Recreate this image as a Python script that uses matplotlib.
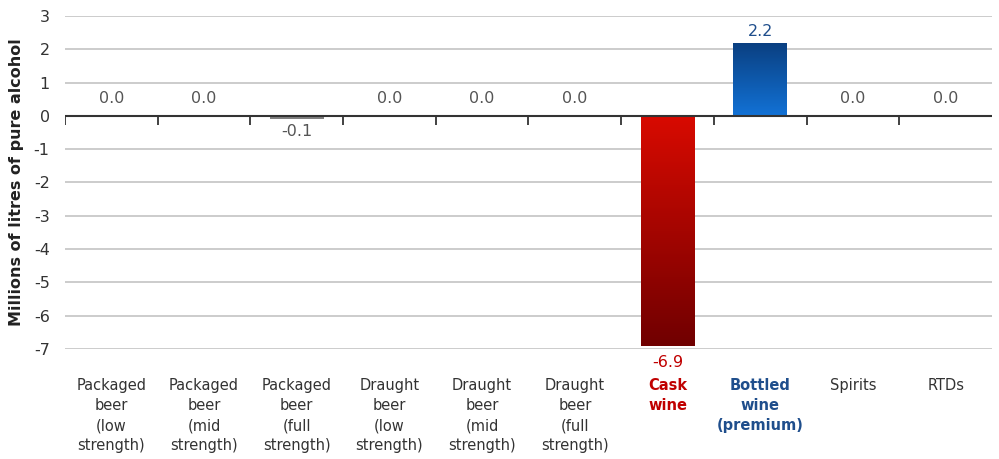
import numpy as np
import matplotlib.pyplot as plt
from matplotlib.colors import LinearSegmentedColormap

# Données
categories = ["Packaged\nbeer\n(low\nstrength)", "Packaged\nbeer\n(mid\nstrength)",
              "Packaged\nbeer\n(full\nstrength)", "Draught\nbeer\n(low\nstrength)",
              "Draught\nbeer\n(mid\nstrength)", "Draught\nbeer\n(full\nstrength)",
              "Cask\nwine", "Bottled\nwine\n(premium)", "Spirits", "RTDs"]
valeurs = [0.0, 0.0, -0.1, 0.0, 0.0, 0.0, -6.9, 2.2, 0.0, 0.0]
y_ticks = [3, 2, 1, 0, -1, -2, -3, -4, -5, -6, -7]

ROUGE = '#c00000'
BLEU = '#1f4e8c'
GRIS = '#555555'

plt.rcParams['font.family'] = ['DejaVu Sans']
plt.rcParams['axes.unicode_minus'] = False

fig = plt.figure(figsize=(9.99, 4.59), dpi=100)
ax = fig.add_axes([0.065, 0.24, 0.928, 0.725])

x = np.arange(len(categories))
largeur = 0.58
ax.set_xlim(-0.5, len(categories) - 0.5)
ax.set_ylim(-7, 3)

# Grille
for y in y_ticks:
    if y != 0:
        ax.axhline(y, color='#c8c8c8', lw=1.3, zorder=0)

# Barres avec dégradé
def barre_degrade(xc, v, c_haut, c_bas):
    cmap = LinearSegmentedColormap.from_list('g', [c_bas, c_haut])
    grad = np.linspace(0, 1, 256).reshape(-1, 1)
    bas, haut = min(0, v), max(0, v)
    im = ax.imshow(grad, cmap=cmap, aspect='auto', origin='lower',
                   extent=[xc - largeur / 2, xc + largeur / 2, bas, haut], zorder=2)
    rect = plt.Rectangle((xc - largeur / 2, bas), largeur, haut - bas,
                         facecolor='none', edgecolor='none')
    ax.add_patch(rect)
    im.set_clip_path(rect)

for i, v in enumerate(valeurs):
    if v < -1:
        barre_degrade(i, v, '#d80a00', '#700000')
        ax.text(i, v - 0.28, f"{v:.1f}", ha='center', va='top', fontsize=11.5, color=ROUGE)
    elif v > 1:
        barre_degrade(i, v, '#0a3f80', '#1272d6')
        ax.text(i, v + 0.12, f"{v:.1f}", ha='center', va='bottom', fontsize=11.5, color=BLEU)
    elif v < 0:
        ax.bar(i, v, width=largeur, color='#808080', zorder=2)
        ax.text(i, v - 0.15, f"{v:.1f}", ha='center', va='top', fontsize=11.5, color=GRIS)
    else:
        ax.text(i, 0.3, f"{v:.1f}", ha='center', va='bottom', fontsize=11.5, color=GRIS)

# Ligne zéro et graduations
ax.axhline(0, color='#333333', lw=1.5, zorder=3)
ax.vlines(np.arange(-0.5, len(categories) - 0.5), -0.28, 0, color='#333333', lw=1.3, zorder=3)

# Axes
ax.set_yticks(y_ticks)
ax.tick_params(axis='y', length=0, labelsize=11.5, labelcolor='#333333', pad=11)
ax.set_xticks(x)
ax.set_xticklabels(categories, fontsize=10.5, color='#333333', linespacing=1.42, va='top')
ax.tick_params(axis='x', length=0, pad=21)
for lbl, cat in zip(ax.get_xticklabels(), categories):
    if cat.startswith("Cask"):
        lbl.set_color(ROUGE)
        lbl.set_fontweight('bold')
    elif cat.startswith("Bottled"):
        lbl.set_color(BLEU)
        lbl.set_fontweight('bold')

for s in ax.spines.values():
    s.set_visible(False)

ax.set_ylabel("Millions of litres of pure alcohol", fontsize=11.5, fontweight='bold',
              color='#222222', labelpad=7)

plt.savefig("out.png", dpi=100, facecolor='white')
